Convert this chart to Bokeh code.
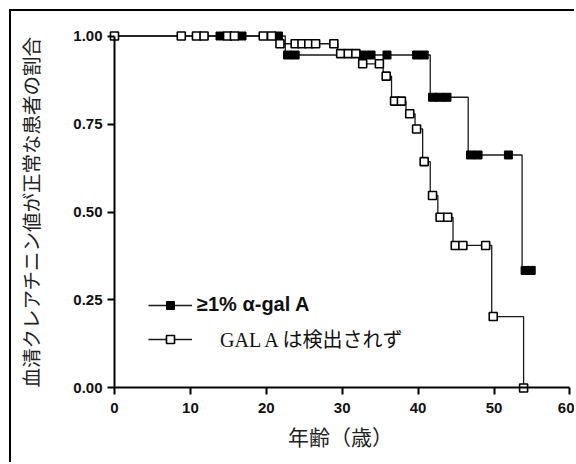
from bokeh.plotting import figure
from bokeh.models import Range1d, FixedTicker, Legend, LegendItem, LinearAxis
from bokeh.embed import file_html
from bokeh.resources import INLINE

# ---- data ----
# series: GAL A not detected (open squares)
open_step_age = [0, 21.5, 29.4, 32.3, 35.4, 36.5, 38.4, 39.6, 40.6, 41.6, 42.6, 44.6, 49.7, 53.9]
open_step_surv = [1.0, 0.978, 0.950, 0.921, 0.886, 0.815, 0.779, 0.736, 0.643, 0.547, 0.485, 0.405, 0.203, 0.0]
open_mark_age = [0, 8.8, 10.8, 11.8, 14.9, 15.8, 19.6, 20.7,
                 21.8, 23.8, 24.7, 25.6, 26.5, 28.9,
                 29.8, 30.8, 31.8, 32.7, 34.9, 35.8, 36.9, 37.8, 38.9, 39.8,
                 40.8, 41.9, 42.9, 43.9, 44.9, 45.9, 48.9, 49.9, 53.9]
open_mark_surv = [1.0, 1.0, 1.0, 1.0, 1.0, 1.0, 1.0, 1.0,
                  0.978, 0.978, 0.978, 0.978, 0.978, 0.978,
                  0.950, 0.950, 0.950, 0.921, 0.921, 0.886, 0.815, 0.815, 0.779, 0.736,
                  0.643, 0.547, 0.485, 0.485, 0.405, 0.405, 0.405, 0.203, 0.0]

# series: >=1% alpha-gal A (filled squares)
filled_step_age = [0, 22.5, 41.6, 46.6, 53.7, 54.9]
filled_step_surv = [1.0, 0.946, 0.826, 0.662, 0.334, 0.334]
filled_mark_age = [13.9, 16.8, 21.6, 22.8, 23.8, 32.7, 33.8, 35.9, 39.8, 40.8,
                   41.9, 42.8, 43.8, 46.9, 47.9, 51.9, 54.1, 54.9]
filled_mark_surv = [1.0, 1.0, 1.0, 0.946, 0.946, 0.946, 0.946, 0.946, 0.946, 0.946,
                    0.826, 0.826, 0.826, 0.662, 0.662, 0.662, 0.334, 0.334]

x_ticks = [0, 10, 20, 30, 40, 50, 60]
y_ticks = [0.0, 0.25, 0.5, 0.75, 1.0]
y_tick_labels = {0.0: "0.00", 0.25: "0.25", 0.5: "0.50", 0.75: "0.75", 1.0: "1.00"}

x_title = "年齢（歳）"
y_title = "血清クレアチニン値が正常な患者の割合"
label_filled = "≥1% α-gal A"
label_open = "GAL A は検出されず"

# ---- figure ----
p = figure(width=565, height=453, output_backend="svg", toolbar_location=None,
           x_range=Range1d(-1.054, 60.606), y_range=Range1d(-0.027, 1.027),
           min_border_left=95, min_border_right=2, min_border_top=15, min_border_bottom=67)
p.styles = {"border-left": "2px solid black", "border-top": "2px solid black",
            "margin-left": "9px", "margin-top": "9px"}
p.outline_line_color = None
p.xgrid.visible = False
p.ygrid.visible = False
p.background_fill_color = "white"

line_col = "#1a1a1a"
r_open_line = p.step(open_step_age, open_step_surv, mode="after", line_color=line_col, line_width=1.3)
r_fill_line = p.step(filled_step_age, filled_step_surv, mode="after", line_color=line_col, line_width=1.3)
r_fill_mk = p.scatter(filled_mark_age, filled_mark_surv, marker="square", size=8,
                      fill_color="black", line_color="black", line_width=1)
r_open_mk = p.scatter(open_mark_age, open_mark_surv, marker="square", size=8,
                      fill_color="white", line_color="black", line_width=1.6)

# label-only axes at the frame edges (lines and ticks hidden)
for ax in (p.xaxis[0], p.yaxis[0]):
    ax.axis_line_color = None
    ax.major_tick_line_color = None
    ax.minor_tick_line_color = None
    ax.major_tick_in = 0
    ax.major_tick_out = 0
    ax.major_label_text_font = "Liberation Sans"
    ax.major_label_text_font_style = "bold"
    ax.major_label_text_font_size = "15px"
    ax.major_label_text_color = "#111111"
    ax.axis_label_text_font = "Noto Sans CJK JP"
    ax.axis_label_text_font_style = "normal"
    ax.axis_label_text_color = "#222222"

p.xaxis.ticker = FixedTicker(ticks=x_ticks)
p.xaxis.major_label_standoff = 5
p.xaxis.axis_label = x_title
p.xaxis.axis_label_text_font_size = "21px"
p.xaxis.axis_label_standoff = 5

p.yaxis.ticker = FixedTicker(ticks=y_ticks)
p.yaxis.major_label_overrides = y_tick_labels
p.yaxis.major_label_standoff = 4
p.yaxis.axis_label = y_title
p.yaxis.axis_label_text_font_size = "19.5px"
p.yaxis.axis_label_standoff = 25

# axis lines and ticks drawn through the data origin
x_rule = LinearAxis(ticker=FixedTicker(ticks=x_ticks), bounds=(0, 60), fixed_location=0)
y_rule = LinearAxis(ticker=FixedTicker(ticks=y_ticks), bounds=(0, 1), fixed_location=0)
for ax in (x_rule, y_rule):
    ax.axis_line_width = 2
    ax.axis_line_color = "black"
    ax.major_tick_line_width = 2
    ax.major_tick_line_color = "black"
    ax.major_tick_in = 0
    ax.major_tick_out = 7
    ax.minor_tick_line_color = None
    ax.major_label_text_font_size = "0px"
    ax.major_label_text_color = None
p.add_layout(x_rule, "below")
p.add_layout(y_rule, "left")

# ---- legends (two, for two fonts) ----
leg1 = Legend(items=[LegendItem(label=label_filled, renderers=[r_fill_line, r_fill_mk])],
              location=(42, 81), padding=0, margin=0, spacing=0,
              glyph_width=44, glyph_height=20, label_height=22, label_standoff=5,
              label_text_font="Liberation Sans", label_text_font_style="bold",
              label_text_font_size="20px", label_text_color="#111111",
              border_line_color=None, background_fill_color="white", background_fill_alpha=1)
leg2 = Legend(items=[LegendItem(label=label_open, renderers=[r_open_line, r_open_mk])],
              location=(42, 44), padding=0, margin=0, spacing=0,
              glyph_width=44, glyph_height=20, label_height=22, label_standoff=28,
              label_text_font="'Liberation Serif', 'Noto Sans CJK JP'", label_text_font_style="normal",
              label_text_font_size="20px", label_text_color="#111111",
              border_line_color=None, background_fill_color="white", background_fill_alpha=1)
p.add_layout(leg1, "center")
p.add_layout(leg2, "center")

open("out.html", "w").write(file_html(p, INLINE))
